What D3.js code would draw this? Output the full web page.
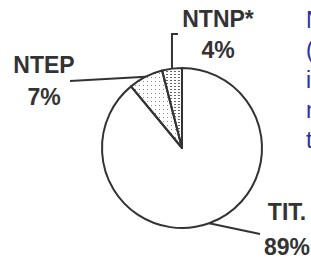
<!DOCTYPE html>
<html>
<head>
<meta charset="utf-8">
<script src="https://cdn.jsdelivr.net/npm/d3@7"></script>
<style>
  body { margin: 0; background: #fff; }
  svg { display: block; }
</style>
</head>
<body>
<div id="chart"></div>
<script>
const categories = ["TIT.", "NTEP", "NTNP*"];
const values = [89, 7, 4];
const valueLabels = ["89%", "7%", "4%"];
const sideText = ["NTNP", "(sans", "inclus", "ni", "tuberculose"];

const width = 311, height = 262;
const cx = 182, cy = 148, radius = 80;
const ink = "#333";

const svg = d3.select("#chart")
  .append("svg")
  .attr("width", width)
  .attr("height", height);

// fill patterns for the two small slices
const defs = svg.append("defs");
const dots = defs.append("pattern")
  .attr("id", "dots")
  .attr("patternUnits", "userSpaceOnUse")
  .attr("width", 4).attr("height", 4);
dots.append("rect").attr("x", 1).attr("y", 1).attr("width", 1).attr("height", 1).attr("fill", "#888");

const dashes = defs.append("pattern")
  .attr("id", "dashes")
  .attr("patternUnits", "userSpaceOnUse")
  .attr("width", 4).attr("height", 3);
dashes.append("rect").attr("x", 0).attr("y", 1).attr("width", 2).attr("height", 1).attr("fill", "#666");

const fills = ["#fff", "url(#dots)", "url(#dashes)"];

const pie = d3.pie().sort(null).value(d => d);
const arc = d3.arc().innerRadius(0).outerRadius(radius);
const edgeArc = d3.arc().innerRadius(radius).outerRadius(radius);

const g = svg.append("g").attr("transform", `translate(${cx},${cy})`);
const slices = pie(values);

g.selectAll("path.slice")
  .data(slices)
  .enter()
  .append("path")
  .attr("class", "slice")
  .attr("d", arc)
  .attr("fill", (d, i) => fills[i])
  .attr("stroke", ink)
  .attr("stroke-width", 2)
  .attr("stroke-linejoin", "round");

// leader lines start on the rim at the middle of each slice
const leaderEnds = [
  [[78, 86]],
  [[-112, -67]],
  [[null, -114], [6, -114]]
];
g.selectAll("polyline.leader")
  .data(slices)
  .enter()
  .append("polyline")
  .attr("class", "leader")
  .attr("points", (d, i) => {
    const [x, y] = edgeArc.centroid(d);
    const pts = [[x, y]].concat(leaderEnds[i].map(p => [p[0] === null ? x : (i === 2 ? x + p[0] : p[0]), p[1]]));
    return pts.map(p => p.join(",")).join(" ");
  })
  .attr("fill", "none")
  .attr("stroke", ink)
  .attr("stroke-width", 2);

// labels
const labelPos = [[287, 220, 255], [44, 73, 105], [218, 27, 58]];
const labels = svg.append("g")
  .attr("font-family", "'Liberation Sans', Arial, sans-serif")
  .attr("font-weight", "bold")
  .attr("font-size", 23)
  .attr("fill", ink)
  .attr("text-anchor", "middle");

categories.forEach((c, i) => {
  const [x, y1, y2] = labelPos[i];
  labels.append("text").attr("x", x).attr("y", y1).text(c);
  labels.append("text").attr("x", x).attr("y", y2).text(valueLabels[i]);
});

// note running off the right edge (clipped in the original too)
svg.append("g")
  .attr("font-family", "'Liberation Sans', Arial, sans-serif")
  .attr("font-size", 23)
  .attr("fill", "#2e2ea0")
  .selectAll("text")
  .data(sideText)
  .enter()
  .append("text")
  .attr("x", 306)
  .attr("y", (d, i) => 28 + i * 30)
  .text(d => d);
</script>
</body>
</html>
